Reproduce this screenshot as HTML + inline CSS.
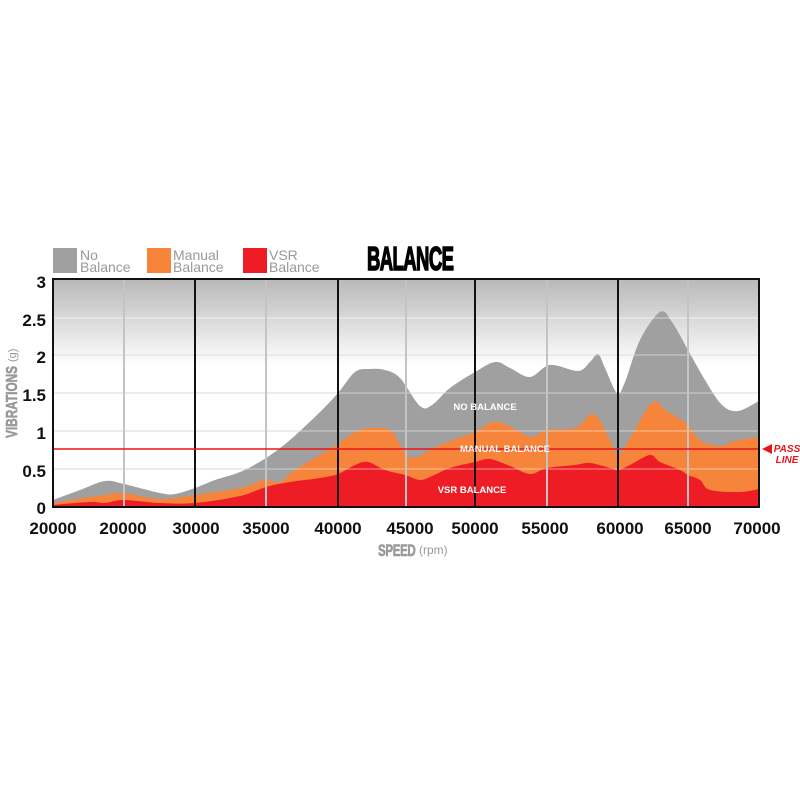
<!DOCTYPE html><html><head><style>body{margin:0;background:#fff}svg{display:block}</style></head><body>
<svg id="s" width="800" height="800" xmlns="http://www.w3.org/2000/svg" font-family="Liberation Sans, sans-serif">
<defs><linearGradient id="bg" x1="0" y1="0" x2="0" y2="1"><stop offset="0" stop-color="#b8b8b8"/><stop offset="0.38" stop-color="#ffffff"/><stop offset="1" stop-color="#fff"/></linearGradient></defs>
<rect x="53" y="279" width="706" height="228" fill="url(#bg)"/>
<g id="areas"></g>
<g stroke="#ffffff" stroke-opacity="0.35" stroke-width="1.5"><line x1="53" x2="759" y1="318" y2="318"/><line x1="53" x2="759" y1="355" y2="355"/><line x1="53" x2="759" y1="393" y2="393"/><line x1="53" x2="759" y1="431" y2="431"/><line x1="53" x2="759" y1="469" y2="469"/></g>
<g stroke="#c4c4c4" stroke-width="2"><line x1="124" x2="124" y1="279" y2="507"/><line x1="266" x2="266" y1="279" y2="507"/><line x1="406" x2="406" y1="279" y2="507"/><line x1="547" x2="547" y1="279" y2="507"/><line x1="688" x2="688" y1="279" y2="507"/></g>
<g stroke="#111" stroke-width="2"><line x1="195" x2="195" y1="279" y2="507"/><line x1="338" x2="338" y1="279" y2="507"/><line x1="475" x2="475" y1="279" y2="507"/><line x1="618" x2="618" y1="279" y2="507"/></g>
<line x1="53" x2="759" y1="449" y2="449" stroke="#e8141c" stroke-width="1.5"/>
<rect x="53" y="279" width="706" height="228" fill="none" stroke="#111" stroke-width="2"/>
<g fill="#fff" font-weight="bold" font-size="9.5" text-anchor="middle"><text x="485" y="410">NO BALANCE</text><text x="505" y="452">MANUAL BALANCE</text><text x="472" y="493">VSR BALANCE</text></g>
<polygon points="762,449 772,444 772,454" fill="#e8141c"/>
<g fill="#e8141c" font-weight="bold" font-style="italic" font-size="10" text-anchor="middle"><text x="787" y="452">PASS</text><text x="787" y="463">LINE</text></g>
<g font-weight="bold" font-size="17" text-anchor="end" fill="#111"><text x="46" y="288">3</text><text x="46" y="326">2.5</text><text x="46" y="363">2</text><text x="46" y="401">1.5</text><text x="46" y="439">1</text><text x="46" y="477">0.5</text><text x="46" y="514">0</text></g>
<g font-weight="bold" font-size="17" text-anchor="middle" fill="#111"><text x="53" y="534">20000</text><text x="123" y="534">20000</text><text x="196" y="534">30000</text><text x="266" y="534">35000</text><text x="338" y="534">40000</text><text x="410" y="534">45000</text><text x="475" y="534">50000</text><text x="545" y="534">55000</text><text x="620" y="534">60000</text><text x="688" y="534">65000</text><text x="757" y="534">70000</text></g>
<text x="378" y="556" fill="#999" font-weight="900" font-size="17" stroke="#999" stroke-width="0.6" transform="translate(378 0) scale(0.68 1) translate(-378 0)" letter-spacing="-0.5">SPEED</text><text x="419" y="554" fill="#999" font-size="12">(rpm)</text>
<g transform="translate(17 400) rotate(-90)"><g transform="translate(-38 0) scale(0.74 1)"><text x="0" y="0" fill="#999" font-weight="900" font-size="16" stroke="#999" stroke-width="0.6">VIBRATIONS</text></g><text x="38" y="-1" fill="#999" font-size="11">(g)</text></g>
<rect x="53" y="248" width="24" height="25" fill="#a0a0a0"/><text x="80" y="260" fill="#999" font-size="14">No</text><text x="80" y="272" fill="#999" font-size="14">Balance</text>
<rect x="147" y="248" width="24" height="25" fill="#f6843a"/><text x="173" y="260" fill="#999" font-size="14">Manual</text><text x="173" y="272" fill="#999" font-size="14">Balance</text>
<rect x="243" y="248" width="24" height="25" fill="#ee1c25"/><text x="269" y="260" fill="#999" font-size="14">VSR</text><text x="269" y="272" fill="#999" font-size="14">Balance</text>
<text x="367" y="270" font-weight="900" font-size="33" fill="#000" stroke="#000" stroke-width="1.6" transform="translate(367 0) scale(0.56 1) translate(-367 0)" letter-spacing="-1">BALANCE</text>
</svg>
<script>
function sm(p){let d="M53,507 L"+p[0][0]+","+p[0][1];for(let i=0;i<p.length-1;i++){const a=p[Math.max(i-1,0)],b=p[i],c=p[i+1],e=p[Math.min(i+2,p.length-1)];d+=" C"+(b[0]+(c[0]-a[0])/6)+","+(b[1]+(c[1]-a[1])/6)+" "+(c[0]-(e[0]-b[0])/6)+","+(c[1]-(e[1]-b[1])/6)+" "+c[0]+","+c[1];}return d+" L759,507 Z";}
const g=[[53,500],[80,490],[105,481],[124,484],[160,493],[175,494],[195,488],[215,480],[240,472],[266,458],[290,440],[320,412],[338,393],[355,372],[370,369],[385,370],[400,378],[420,406],[432,405],[450,388],[475,372],[495,362],[510,368],[530,377],[550,365],[578,371],[590,362],[598,354],[605,368],[617,393],[625,382],[640,340],[660,312],[672,322],[688,350],[705,380],[722,405],[738,411],[759,401]];
const o=[[53,503],[90,497],[105,495],[124,493],[160,499],[195,495],[240,488],[260,481],[266,479],[280,482],[295,470],[320,455],[338,444],[355,432],[370,428],[390,430],[400,445],[408,456],[418,457],[440,445],[475,432],[490,423],[502,423],[520,432],[532,437],[547,430],[575,428],[590,415],[598,418],[610,440],[618,456],[626,445],[652,403],[665,410],[688,425],[700,440],[720,446],[735,441],[759,437]];
const r=[[53,505],[90,502],[105,503],[124,500],[160,503],[195,503],[240,496],[266,487],[290,482],[320,478],[338,474],[355,465],[368,462],[385,470],[405,475],[420,480],[432,476],[450,468],[475,462],[490,459],[510,466],[530,474],[547,468],[575,465],[590,463],[610,468],[618,470],[630,465],[650,455],[660,462],[680,470],[688,475],[700,480],[710,490],[740,492],[759,489]];
const A=document.getElementById("areas");
[[g,"#a0a0a0"],[o,"#f6843a"],[r,"#ee1c25"]].forEach(([p,c])=>{const e=document.createElementNS("http://www.w3.org/2000/svg","path");e.setAttribute("d",sm(p));e.setAttribute("fill",c);A.appendChild(e);});
const bgl=document.createElementNS("http://www.w3.org/2000/svg","g");bgl.setAttribute("stroke","#dcdcdc");bgl.setAttribute("stroke-width","1.5");
[318,355,393,431,469].forEach(y=>{const l=document.createElementNS("http://www.w3.org/2000/svg","line");l.setAttribute("x1",53);l.setAttribute("x2",759);l.setAttribute("y1",y);l.setAttribute("y2",y);bgl.appendChild(l);});
A.parentNode.insertBefore(bgl,A);
</script>
</body></html>
